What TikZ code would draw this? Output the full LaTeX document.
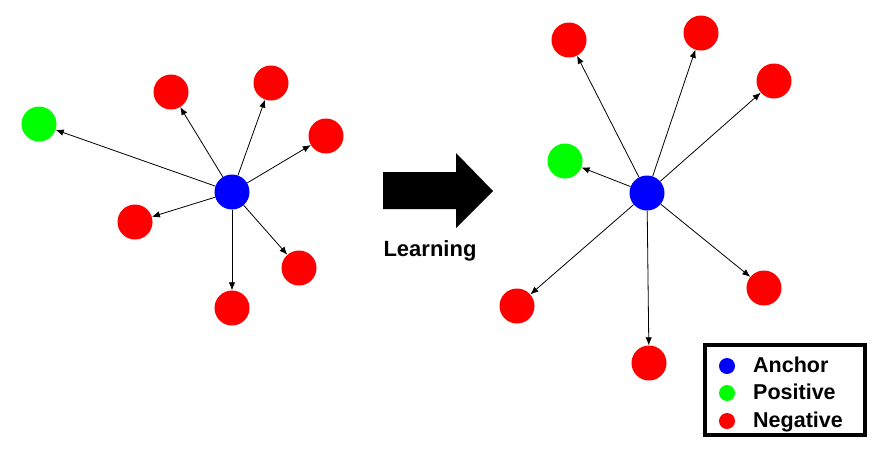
\documentclass[tikz,border=0pt]{standalone}
\usepackage{fontspec}
\setmainfont{Liberation Sans}
\usepackage{tikz}
\usetikzlibrary{arrows.meta}
\usetikzlibrary{shapes}
\usetikzlibrary{calc}
\usetikzlibrary{positioning}
\definecolor{ancblue}{RGB}{0,0,255}
\definecolor{posgreen}{RGB}{0,255,0}
\definecolor{negred}{RGB}{255,0,0}
\tikzstyle{pull}  = [
    draw,
    line width=0.8pt,
    -{Latex[length=8pt,width=6.5pt]}
]
\tikzstyle{dot}  = [
    shape=circle,
    inner sep=0pt,
    minimum size=35pt
]
\tikzstyle{ancdot} = [dot, fill=ancblue]
\tikzstyle{posdot} = [dot, fill=posgreen]
\tikzstyle{negdot} = [dot, fill=negred]
\tikzstyle{keydot} = [shape=circle, inner sep=0pt, minimum size=16pt]
\tikzstyle{keytext} = [anchor=base west, font=\bfseries\fontsize{21.5}{24}\selectfont, inner sep=0pt]
\begin{document}
\begin{tikzpicture}[x=1pt, y=-1pt]
\useasboundingbox (0,0) rectangle (885,451);

% before learning
\node[ancdot] (a0) at (232,192) {};
\node[posdot] (p0) at (39,124) {};
\node[negdot] (n1) at (171,92) {};
\node[negdot] (n2) at (271,83) {};
\node[negdot] (n3) at (326,136) {};
\node[negdot] (n4) at (135,222) {};
\node[negdot] (n5) at (299,268) {};
\node[negdot] (n6) at (232,308) {};

\draw[pull] (a0) to (p0);
\draw[pull] (a0) to (n1);
\draw[pull] (a0) to (n2);
\draw[pull] (a0) to (n3);
\draw[pull] (a0) to (n4);
\draw[pull] (a0) to (n5);
\draw[pull] (a0) to (n6);

% big arrow
\fill[black] (383,172) -- (456,172) -- (456,153) -- (493,191) -- (456,228) -- (456,209) -- (383,209) -- cycle;
\node[anchor=base, font=\bfseries\fontsize{22}{24}\selectfont, inner sep=0pt] (learn) at (430,256) {Learning};

% after learning
\node[ancdot] (a1) at (647,193) {};
\node[posdot] (p1) at (565,161) {};
\node[negdot] (m1) at (569,40) {};
\node[negdot] (m2) at (701,33) {};
\node[negdot] (m3) at (774,81) {};
\node[negdot] (m4) at (517,306) {};
\node[negdot] (m5) at (649,363) {};
\node[negdot] (m6) at (764,288) {};

\draw[pull] (a1) to (p1);
\draw[pull] (a1) to (m1);
\draw[pull] (a1) to (m2);
\draw[pull] (a1) to (m3);
\draw[pull] (a1) to (m4);
\draw[pull] (a1) to (m5);
\draw[pull] (a1) to (m6);

% legend
\draw[line width=3.5pt] (705,345) rectangle (865,435);
\node[keydot, fill=ancblue] (k1) at (727,366) {};
\node[keydot, fill=posgreen] (k2) at (727,393) {};
\node[keydot, fill=negred] (k3) at (727,421) {};
\node[keytext] (t1) at (753,372) {Anchor};
\node[keytext] (t2) at (753,399) {Positive};
\node[keytext] (t3) at (753,427) {Negative};

\end{tikzpicture}
\end{document}
